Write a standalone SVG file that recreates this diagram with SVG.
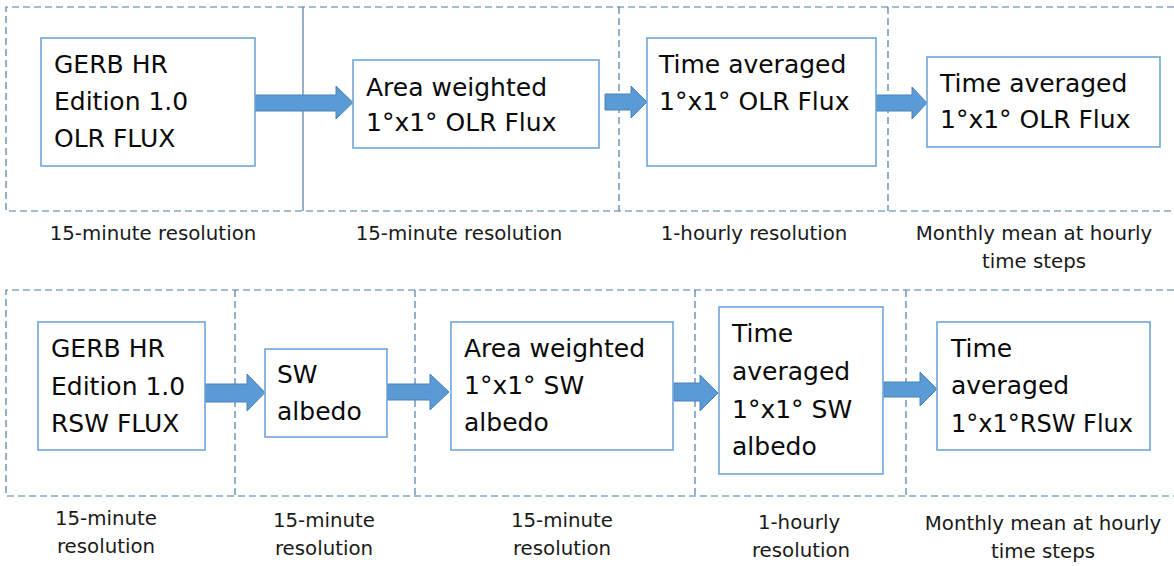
<svg xmlns="http://www.w3.org/2000/svg" width="1174" height="566" viewBox="0 0 1174 566">
<defs>
<style>
.bg{fill:#fff}
.frame{fill:none;stroke:#4d7ca8;stroke-width:1.2;stroke-dasharray:7 4}
.solid{fill:none;stroke:#4d7ca8;stroke-width:1.2}
.box{fill:#fff;stroke:#6ea6da;stroke-width:1.6}
.t{font-family:"DejaVu Sans",Verdana,sans-serif;font-size:25px;fill:#0a0a0a}
.lbl{font-family:"DejaVu Sans",Verdana,sans-serif;font-size:19.8px;fill:#1a1a1a}
.arr{fill:#5b9bd5;stroke:#4a83b8;stroke-width:1}
</style>
</defs>
<rect class="bg" x="0" y="0" width="1174" height="566"/>
<g id="frames">
<path class="frame" d="M1174 7H6V211H1174"/>
<line class="solid" x1="303" y1="7" x2="303" y2="211"/>
<line class="frame" x1="619" y1="7" x2="619" y2="211"/>
<line class="frame" x1="888" y1="7" x2="888" y2="211"/>
<path class="frame" d="M1174 290H6V496H1174"/>
<line class="frame" x1="235" y1="290" x2="235" y2="496"/>
<line class="frame" x1="415" y1="290" x2="415" y2="496"/>
<line class="frame" x1="695" y1="290" x2="695" y2="496"/>
<line class="frame" x1="906" y1="290" x2="906" y2="496"/>
</g>
<g id="connectors">
<path class="arr" d="M255 95H336V86L353 102.5L336 119V111H255Z"/>
<path class="arr" d="M605 94H631V86L647 102L631 118V110H605Z"/>
<path class="arr" d="M876 95H912V87L927 103L912 119V111H876Z"/>
<path class="arr" d="M205 384H247V374L265 392.5L247 411V402H205Z"/>
<path class="arr" d="M387 384H430V374L449 392L430 410V400H387Z"/>
<path class="arr" d="M674 383H700V375L718 393L700 411V401H674Z"/>
<path class="arr" d="M884 382H920V372L937 389L920 406V397H884Z"/>
</g>
<g id="n1"><rect class="box" x="41" y="38" width="214" height="128"/>
<text class="t" x="54" y="73">GERB HR</text><text class="t" x="54" y="110">Edition 1.0</text><text class="t" x="54" y="147">OLR FLUX</text></g>
<g id="n2"><rect class="box" x="353" y="60" width="246" height="88"/>
<text class="t" x="366" y="96">Area weighted</text><text class="t" x="366" y="131">1°x1° OLR Flux</text></g>
<g id="n3"><rect class="box" x="647" y="38" width="229" height="128"/>
<text class="t" x="659" y="73">Time averaged</text><text class="t" x="659" y="110">1°x1° OLR Flux</text></g>
<g id="n4"><rect class="box" x="927" y="57" width="233" height="90"/>
<text class="t" x="940" y="92">Time averaged</text><text class="t" x="940" y="128">1°x1° OLR Flux</text></g>
<g id="n5"><rect class="box" x="38" y="322" width="167" height="128"/>
<text class="t" x="51" y="357">GERB HR</text><text class="t" x="51" y="395">Edition 1.0</text><text class="t" x="51" y="432">RSW FLUX</text></g>
<g id="n6"><rect class="box" x="265" y="349" width="122" height="88"/>
<text class="t" x="277" y="383">SW</text><text class="t" x="277" y="420">albedo</text></g>
<g id="n7"><rect class="box" x="451" y="322" width="222" height="128"/>
<text class="t" x="464" y="357">Area weighted</text><text class="t" x="464" y="394">1°x1° SW</text><text class="t" x="464" y="431">albedo</text></g>
<g id="n8"><rect class="box" x="719" y="307" width="164" height="167"/>
<text class="t" x="732" y="342">Time</text><text class="t" x="732" y="380">averaged</text><text class="t" x="732" y="418">1°x1° SW</text><text class="t" x="732" y="455">albedo</text></g>
<g id="n9"><rect class="box" x="937" y="322" width="213" height="128"/>
<text class="t" x="951" y="357">Time</text><text class="t" x="951" y="394">averaged</text><text class="t" x="951" y="432" textLength="182" lengthAdjust="spacingAndGlyphs">1°x1°RSW Flux</text></g>
<g id="labels" text-anchor="middle">
<text class="lbl" x="153" y="240">15-minute resolution</text>
<text class="lbl" x="459" y="240">15-minute resolution</text>
<text class="lbl" x="754" y="240">1-hourly resolution</text>
<text class="lbl" x="1034" y="240">Monthly mean at hourly</text>
<text class="lbl" x="1034" y="268">time steps</text>
<text class="lbl" x="106" y="525">15-minute</text>
<text class="lbl" x="106" y="553">resolution</text>
<text class="lbl" x="324" y="527">15-minute</text>
<text class="lbl" x="324" y="555">resolution</text>
<text class="lbl" x="562" y="527">15-minute</text>
<text class="lbl" x="562" y="555">resolution</text>
<text class="lbl" x="799" y="529">1-hourly</text>
<text class="lbl" x="801" y="557">resolution</text>
<text class="lbl" x="1043" y="530">Monthly mean at hourly</text>
<text class="lbl" x="1043" y="558">time steps</text>
</g>
</svg>
